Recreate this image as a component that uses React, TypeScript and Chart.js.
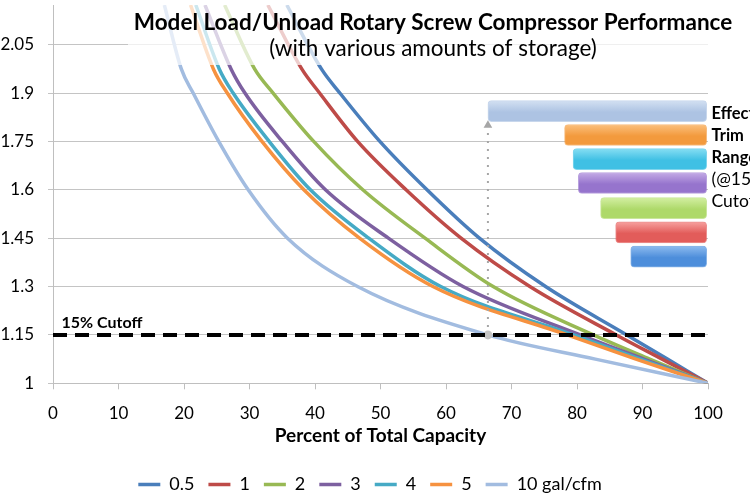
import React, { useEffect, useRef } from "react";
import { Chart, registerables } from "chart.js";
Chart.register(...registerables);

// ---- data ----
const seriesLabels = ["0.5", "1", "2", "3", "4", "5", "10 gal/cfm"];
const seriesColors = ["#4a7ebb", "#be4b48", "#98b954", "#7d60a0", "#46aac5", "#f69240", "#a2bce0"];

// power ratio (y) levels at which each curve's capacity (x, %) was read
const powerLevels = [2.173, 1.974, 1.9, 1.75, 1.6, 1.45, 1.3, 1.15, 1.075, 1.0];
const capacity05 = [35.7, 41.0, 43.8, 49.9, 57.1, 65.1, 75.2, 87.6, 93.8, 100];
const capacity1 = [32.8, 38.0, 40.7, 46.5, 53.9, 62.3, 72.8, 86.0, 93.0, 100];
const capacity2 = [26.2, 30.8, 33.6, 39.8, 47.3, 56.8, 67.2, 82.5, 91.1, 100];
const capacity3 = [23.2, 27.2, 29.3, 35.0, 41.6, 51.2, 62.6, 80.5, 90.2, 100];
const capacity4 = [21.8, 25.4, 27.5, 33.0, 39.3, 48.2, 59.2, 79.5, 89.7, 100];
const capacity5 = [21.0, 24.5, 26.6, 31.9, 38.3, 46.8, 58.0, 78.5, 89.0, 100];
const capacity10 = [17.0, 19.6, 21.4, 25.3, 29.8, 35.8, 46.5, 66.4, 82.8, 100];
const seriesCapacity = [capacity05, capacity1, capacity2, capacity3, capacity4, capacity5, capacity10];

const xTicks = [0, 10, 20, 30, 40, 50, 60, 70, 80, 90, 100];
const yTicks = [1, 1.15, 1.3, 1.45, 1.6, 1.75, 1.9, 2.05];
const yMax = 2.173;

const cutoffLevel = 1.15;
const arrowX = 66.4;
const arrowTop = 1.8;

// effective trim range bars (order: 10, 5, 4, 3, 2, 1, 0.5)
const trimRowLevels = [1.844, 1.77, 1.695, 1.621, 1.543, 1.468, 1.393];
const trimStart = [66.4, 78.1, 79.4, 80.2, 83.6, 85.9, 88.2];
const trimEnd = [99.8, 99.8, 99.8, 99.8, 99.8, 99.8, 99.8];
const trimTop = ["#d3e0f2", "#fbc07e", "#86def3", "#c4abe6", "#d3efa2", "#f7a19f", "#8dbbef"];
const trimBottom = ["#adc3e3", "#f39a3d", "#3fc0e4", "#9674cd", "#aed96a", "#e25c5a", "#4d8edb"];

const titleText = "Model Load/Unload Rotary Screw Compressor Performance";
const subtitleText = "(with various amounts of storage)";
const cutoffText = "15% Cutoff";
const sideTextBold = ["Effective", "Trim", "Range"];
const sideTextRegular = ["(@15%", "Cutoff)"];
const xTitle = "Percent of Total Capacity";

const FONT = "Lato";
const PLOT_BOTTOM = 383.3;
const BOTTOM_PAD = -3.5;
const PLOT_RIGHT_GAP = 42;

const textPlugin = {
  id: "textPlugin",
  afterDatasetsDraw(chart: any) {
    const { ctx, chartArea, scales } = chart;
    const x = scales.x;
    const y = scales.y;
    ctx.save();
    // translucent panel behind the title
    ctx.fillStyle = "rgba(255,255,255,0.72)";
    ctx.fillRect(128, 0, chart.width - 128, 65);
    ctx.fillStyle = "#000";
    ctx.textAlign = "center";
    ctx.textBaseline = "alphabetic";
    ctx.font = `bold 22.5px ${FONT}`;
    ctx.fillText(titleText, 433, 30);
    ctx.font = `22.5px ${FONT}`;
    ctx.fillText(subtitleText, 433, 56);

    ctx.textAlign = "left";
    ctx.font = `bold 16px ${FONT}`;
    ctx.fillText(cutoffText, x.getPixelForValue(1.3), y.getPixelForValue(cutoffLevel) - 6.5);

    const sx = chartArea.right + 3.5;
    let ly = 119.3;
    ctx.font = `bold 16.5px ${FONT}`;
    sideTextBold.forEach((t) => {
      ctx.fillText(t, sx, ly);
      ly += 21.8;
    });
    ctx.font = `17.5px ${FONT}`;
    sideTextRegular.forEach((t) => {
      ctx.fillText(t, sx, ly);
      ly += 21.8;
    });
    ctx.restore();
  },
};

function buildConfig(): any {
  const seriesDatasets = seriesLabels.map((label, i) => ({
    type: "line",
    label,
    data: seriesCapacity[i].map((c, k) => ({ x: c, y: powerLevels[k] })),
    borderColor: seriesColors[i],
    backgroundColor: seriesColors[i],
    borderWidth: 3.5,
    pointRadius: 0,
    fill: false,
    cubicInterpolationMode: "monotone",
    isSeries: true,
  }));

  const cutoffDataset = {
    type: "line",
    label: "cutoff",
    data: [
      { x: xTicks[0], y: cutoffLevel },
      { x: xTicks[xTicks.length - 1], y: cutoffLevel },
    ],
    borderColor: "#000",
    borderWidth: 4,
    borderDash: [14, 8],
    pointRadius: 0,
    fill: false,
  };

  const arrowDataset = {
    type: "line",
    label: "arrow",
    data: [
      { x: arrowX, y: cutoffLevel },
      { x: arrowX, y: arrowTop },
    ],
    borderColor: "#a6a6a6",
    borderWidth: 2,
    borderDash: [2, 6],
    pointRadius: [4.5, 5],
    pointStyle: ["circle", "triangle"],
    pointBackgroundColor: ["#c4c4c4", "#a6a6a6"],
    pointBorderWidth: 0,
    fill: false,
  };

  const barDataset = {
    type: "bar",
    label: "trim",
    indexAxis: "y",
    data: trimRowLevels.map((lv, i) => ({ y: lv, x: [trimStart[i], trimEnd[i]] })),
    barThickness: 21,
    borderRadius: 4,
    borderSkipped: false,
    borderWidth: 1,
    borderColor: (c: any) => (trimBottom[c.dataIndex] || trimBottom[0]) + "aa",
    backgroundColor: (c: any) => {
      const i = c.dataIndex;
      if (i === undefined || i === null || !trimBottom[i]) return trimBottom[0];
      const chart = c.chart;
      const ys = chart.scales && chart.scales.y;
      if (!ys) return trimBottom[i];
      const py = ys.getPixelForValue(trimRowLevels[i]);
      if (!isFinite(py)) return trimBottom[i];
      const g = chart.ctx.createLinearGradient(0, py - 10.5, 0, py + 10.5);
      g.addColorStop(0, trimTop[i]);
      g.addColorStop(0.55, trimBottom[i]);
      g.addColorStop(1, trimBottom[i]);
      return g;
    },
  };

  // datasets drawn last-to-first: earlier in array = on top
  const datasets = [cutoffDataset, arrowDataset, ...seriesDatasets.slice().reverse(), barDataset];

  return {
    type: "line",
    data: { datasets },
    options: {
      animation: false,
      responsive: true,
      maintainAspectRatio: false,
      events: [],
      layout: { padding: { top: 0, right: 10, left: 0, bottom: BOTTOM_PAD } },
      font: { family: FONT },
      plugins: {
        tooltip: { enabled: false },
        title: { display: false },
        legend: {
          position: "bottom",
          labels: {
            usePointStyle: true,
            pointStyle: "line",
            pointStyleWidth: 22,
            color: "#000",
            padding: 14,
            font: { family: FONT, size: 18 },
            filter: (item: any, data: any) => !!data.datasets[item.datasetIndex].isSeries,
            sort: (a: any, b: any) => b.datasetIndex - a.datasetIndex,
          },
        },
      },
      scales: {
        x: {
          type: "linear",
          min: 0,
          max: 100,
          offset: false,
          beginAtZero: false,
          afterBuildTicks: (s: any) => {
            s.ticks = xTicks.map((v) => ({ value: v }));
          },
          afterFit: (s: any) => {
            const lg = s.chart.legend;
            const lh = lg && lg.height ? lg.height : 40;
            s.height = s.chart.height - BOTTOM_PAD - PLOT_BOTTOM - lh;
            s.paddingLeft = 0;
            s.paddingRight = PLOT_RIGHT_GAP;
          },
          grid: { drawOnChartArea: false, drawTicks: true, tickLength: 6, color: "#bfbfbf", offset: false },
          border: { color: "#bfbfbf", width: 1 },
          ticks: { color: "#000", font: { family: FONT, size: 17 }, padding: 14.5, maxRotation: 0, autoSkip: false },
          title: {
            display: true,
            text: xTitle,
            color: "#000",
            font: { family: FONT, size: 19, weight: "bold" },
            padding: { top: 4, bottom: 14 },
          },
        },
        y: {
          type: "linear",
          min: 1,
          max: yMax,
          offset: false,
          afterBuildTicks: (s: any) => {
            s.ticks = yTicks.map((v) => ({ value: v }));
          },
          afterFit: (s: any) => {
            s.width = 53;
            s.paddingTop = 0;
            s.paddingBottom = 0;
          },
          grid: { color: "#c4c4c4", tickLength: 5, lineWidth: 1, offset: false },
          border: { color: "#bfbfbf", width: 1 },
          ticks: {
            color: "#000",
            font: { family: FONT, size: 17 },
            padding: 14,
            autoSkip: false,
            callback: (v: any) => String(Math.round(Number(v) * 100) / 100),
          },
        },
      },
    },
    plugins: [textPlugin],
  };
}

export default function App() {
  const ref = useRef<HTMLCanvasElement>(null);
  useEffect(() => {
    document.body.style.margin = "0";
    document.body.style.overflow = "hidden";
    const chart = new Chart(ref.current as HTMLCanvasElement, buildConfig());
    return () => chart.destroy();
  }, []);
  return (
    <div style={{ position: "absolute", left: 0, top: 0, width: 750, height: 500 }}>
      <canvas ref={ref} />
    </div>
  );
}
